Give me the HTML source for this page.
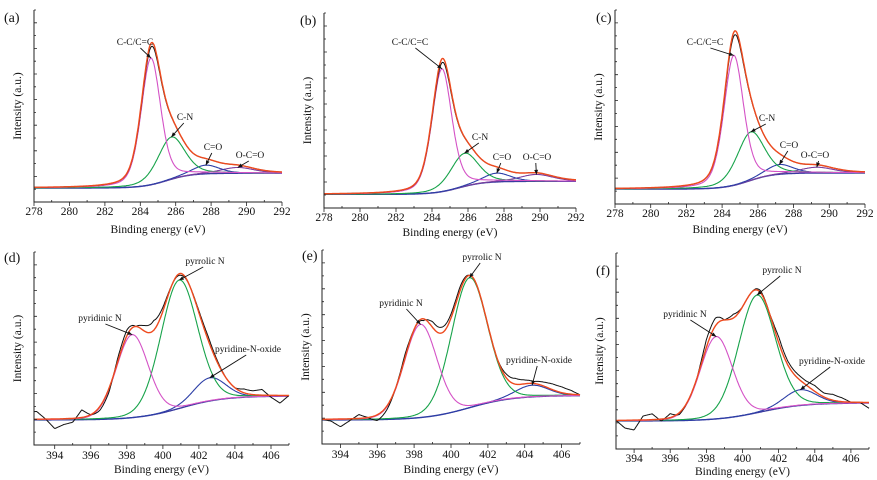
<!DOCTYPE html>
<html><head><meta charset="utf-8">
<style>
html,body{margin:0;padding:0;background:#fff;}
svg{display:block;font-family:"Liberation Serif","Times New Roman",serif;}
svg text{font-family:"Liberation Serif","Times New Roman",serif;}
</style></head>
<body>
<svg id="fig" width="877" height="480" viewBox="0 0 877 480" xmlns="http://www.w3.org/2000/svg" font-family="Liberation Serif, serif"></svg>
<script>
// ---- Data (component peaks: center eV, height as fraction of plot height, FWHM eV) ----
const cLabels = ["C-C/C=C","C-N","C=O","O-C=O"];
const nLabels = ["pyridinic N","pyrrolic N","pyridine-N-oxide"];
const cTicks = [278,280,282,284,286,288,290,292];
const nTicks = [394,396,398,400,402,404,406];

const aCenters = [284.6,285.75,287.7,289.5];
const aHeights = [0.66,0.22,0.045,0.03];
const aWidths  = [1.3,1.8,1.8,2.2];
const aBg = [0.073,0.15];

const bCenters = [284.55,285.8,287.6,289.8];
const bHeights = [0.63,0.17,0.045,0.035];
const bWidths  = [1.3,1.8,1.8,2.2];
const bBg = [0.07,0.137];

const cCenters = [284.65,285.6,287.2,289.3];
const cHeights = [0.67,0.25,0.05,0.03];
const cWidths  = [1.3,1.8,1.8,2.2];
const cBg = [0.077,0.16];

const dCenters = [398.3,400.9,402.6];
const dHeights = [0.43,0.665,0.12];
const dWidths  = [2.1,2.4,2.1];
const dBg = [0.13,0.254];
const dNoise = [0.04,0,-0.05,-0.03,-0.02,0.04,0,-0.02,-0.02,0.02,0.03,0,0.03,0.05,0.02,0,-0.01,0,0.01,0.02,0.01,0,0,0.02,0.02,0.03,-0.01,-0.04,0];

const eCenters = [398.35,401.0,404.4];
const eHeights = [0.48,0.67,0.06];
const eWidths  = [2.1,2.3,2.1];
const eBg = [0.124,0.25];
const eNoise = [0,-0.01,-0.04,-0.01,0.02,0,-0.03,-0.02,0,0.02,0,-0.01,0.03,0.03,0.02,0.02,0,0,0,0,0.02,0.03,0.02,0.01,0.02,0.03,0.03,0.02,0];

const fCenters = [398.55,400.8,403.2];
const fHeights = [0.42,0.6,0.08];
const fWidths  = [2.1,2.4,2.1];
const fBg = [0.143,0.235];
const fNoise = [0,-0.04,-0.05,0.02,0.03,-0.01,0.02,-0.01,0,0,0.04,0.04,0,0.02,0,0,0.01,0,0.03,0.02,0.02,0.02,0.03,0.02,0.03,0.02,0,0,-0.03];

const NS="http://www.w3.org/2000/svg";
const svg=document.getElementById('fig');
const FONT='Liberation Serif, serif';
function mk(tag,attrs,parent){const e=document.createElementNS(NS,tag);for(const k in attrs)e.setAttribute(k,attrs[k]);if(tag==='text')e.setAttribute('font-family',FONT);(parent||svg).appendChild(e);return e;}
function pv(x,c,h,w,m){const t=(x-c)/w;return h*(m/(1+4*t*t)+(1-m)*Math.exp(-4*Math.LN2*t*t));}

const panels=[
 {id:'a',L:34,R:282,T:10,B:202,x0:278,x1:292,ticks:cTicks,cen:aCenters,hei:aHeights,wid:aWidths,bg:aBg,bc:285.5,bw:0.7,m:0.35,lab:cLabels,
  ann:[[135,45],[185,120],[213,150],[250,158]],tickY:215,titleY:233,letter:[4,22]},
 {id:'b',L:324,R:576,T:13,B:208,x0:278,x1:292,ticks:cTicks,cen:bCenters,hei:bHeights,wid:bWidths,bg:bBg,bc:285.5,bw:0.7,m:0.35,lab:cLabels,
  ann:[[410,45],[480,140],[502,160],[537,160]],tickY:221,titleY:236,letter:[300,25]},
 {id:'c',L:615,R:865,T:10,B:204,x0:278,x1:292,ticks:cTicks,cen:cCenters,hei:cHeights,wid:cWidths,bg:cBg,bc:285.5,bw:0.7,m:0.35,lab:cLabels,
  ann:[[705,45],[767,121],[789,148],[815,158]],tickY:217,titleY:233,letter:[596,22]},
 {id:'d',L:34,R:289,T:252,B:445,x0:392.85,x1:407,ticks:nTicks,cen:dCenters,hei:dHeights,wid:dWidths,bg:dBg,bc:401,bw:1.2,m:0.1,lab:nLabels,noise:dNoise,
  ann:[[100,321],[205,264],[248,352]],tickY:459,titleY:473,letter:[4,262]},
 {id:'e',L:322,R:580,T:250,B:444,x0:393,x1:407,ticks:nTicks,cen:eCenters,hei:eHeights,wid:eWidths,bg:eBg,bc:401,bw:1.2,m:0.1,lab:nLabels,noise:eNoise,
  ann:[[401,306],[482,260],[539,363]],tickY:458,titleY:473,letter:[302,260]},
 {id:'f',L:616,R:869,T:253,B:449,x0:393,x1:407,ticks:nTicks,cen:fCenters,hei:fHeights,wid:fWidths,bg:fBg,bc:401,bw:1.2,m:0.1,lab:nLabels,noise:fNoise,
  ann:[[685,317],[782,273],[832,364]],tickY:462,titleY:475,letter:[596,275]}
];
const colors=['#d452c6','#17a34a','#2c3ea6','#7b3f9e'];

panels.forEach(p=>{
 const g=mk('g',{});
 
 
 const sx=v=>p.L+(v-p.x0)/(p.x1-p.x0)*(p.R-p.L);
 const sy=f=>p.B-f*(p.B-p.T);
 const bgf=x=>p.bg[0]+(p.bg[1]-p.bg[0])/(1+Math.exp(-(x-p.bc)/p.bw));
 const comp=(i,x)=>pv(x,p.cen[i],p.hei[i],p.wid[i],p.m);
 const xs=[];const step=(p.x1-p.x0)/300;
 for(let x=p.x0;x<=p.x1+1e-9;x+=step)xs.push(x);
 const pathOf=fn=>xs.map((x,i)=>(i?'L':'M')+sx(x).toFixed(1)+','+sy(fn(x)).toFixed(1)).join('');
 const env=x=>{let s=bgf(x);for(let i=0;i<p.cen.length;i++)s+=comp(i,x);return s;};
 const bgp=mk('path',{d:pathOf(bgf),fill:'none',stroke:'#3a3aa0','stroke-width':1.4},g);
 
 
 for(let i=p.cen.length-1;i>=0;i--){
  const cp=mk('path',{d:pathOf(x=>bgf(x)+comp(i,x)),fill:'none',stroke:colors[i],'stroke-width':1.1},g);
  
  
 }
 let raw;
 if(p.noise){
  const nz=x=>{const k=(x-393)/0.5;const i=Math.max(0,Math.min(p.noise.length-2,Math.floor(k)));const t=Math.max(0,Math.min(1,k-i));return p.noise[i]*(1-t)+p.noise[i+1]*t;};
  raw=x=>env(x)+nz(x);
 } else {
  raw=x=>env(x)-0.02*comp(0,x)/p.hei[0];
 }
 const rp=mk('path',{d:pathOf(raw),fill:'none',stroke:'#111','stroke-width':1},g);
 
 
 const ep=mk('path',{d:pathOf(env),fill:'none',stroke:'#ee4a1e','stroke-width':1.4},g);
 
 
 const ax=mk('path',{d:`M${p.L},${p.T}V${p.B}H${p.R}`,fill:'none',stroke:'#222','stroke-width':1},g);
 
 
 let yt='';const n=15;for(let k=1;k<=n;k++){const y=p.B-k*(p.B-p.T)/n;yt+=`M${p.L},${y.toFixed(1)}h${k%2?2:3}`;}
 let xt='';
 p.ticks.forEach(t=>{xt+=`M${sx(t).toFixed(1)},${p.B}v4`;if(sx(t+1)<=p.R+0.5)xt+=`M${sx(t+1).toFixed(1)},${p.B}v-2`;});
 const tk=mk('path',{d:yt+xt,fill:'none',stroke:'#222','stroke-width':0.8},g);
 
 
 p.ticks.forEach(t=>{
  const tl=mk('text',{x:sx(t),y:p.tickY,'text-anchor':'middle','font-size':11.5,fill:'#111'},g);
  tl.textContent=t;
  
  
 });
 const xt2=mk('text',{x:(p.L+p.R)/2,y:p.titleY,'text-anchor':'middle','font-size':11.5,fill:'#111'},g);
 xt2.textContent='Binding energy (eV)';
 
 
 const ycx=p.L-13,ycy=(p.T+p.B)/2;
 const yt2=mk('text',{x:ycx,y:ycy,'text-anchor':'middle','font-size':11.5,fill:'#111',transform:`rotate(-90 ${ycx} ${ycy})`},g);
 yt2.textContent='Intensity (a.u.)';
 
 
 const lt=mk('text',{x:p.letter[0],y:p.letter[1],'font-size':14,fill:'#111'},g);
 lt.textContent='('+p.id+')';
 
 
 p.lab.forEach((lab,i)=>{
  if(!p.ann[i])return;
  const [tx,ty]=p.ann[i];
  const a=mk('text',{x:tx,y:ty,'text-anchor':'middle','font-size':9.5,fill:'#111'},g);
  a.textContent=lab;
  
  
  const px=sx(p.cen[i]),py=sy(bgf(p.cen[i])+comp(i,p.cen[i]));
  const x0=tx+(px>tx?6:-2)*(lab.length>6?1.5:1)*0.6,y0=ty+3;
  const ar=mk('line',{x1:x0,y1:y0,x2:px,y2:py,stroke:'#111','stroke-width':0.9},g);
  
  
  const ang=Math.atan2(py-y0,px-x0);
  const h=mk('path',{d:`M${px},${py}L${px-5*Math.cos(ang-0.4)},${py-5*Math.sin(ang-0.4)}L${px-5*Math.cos(ang+0.4)},${py-5*Math.sin(ang+0.4)}Z`,fill:'#111'},g);
  
  
 });
});
</script>
</body></html>
